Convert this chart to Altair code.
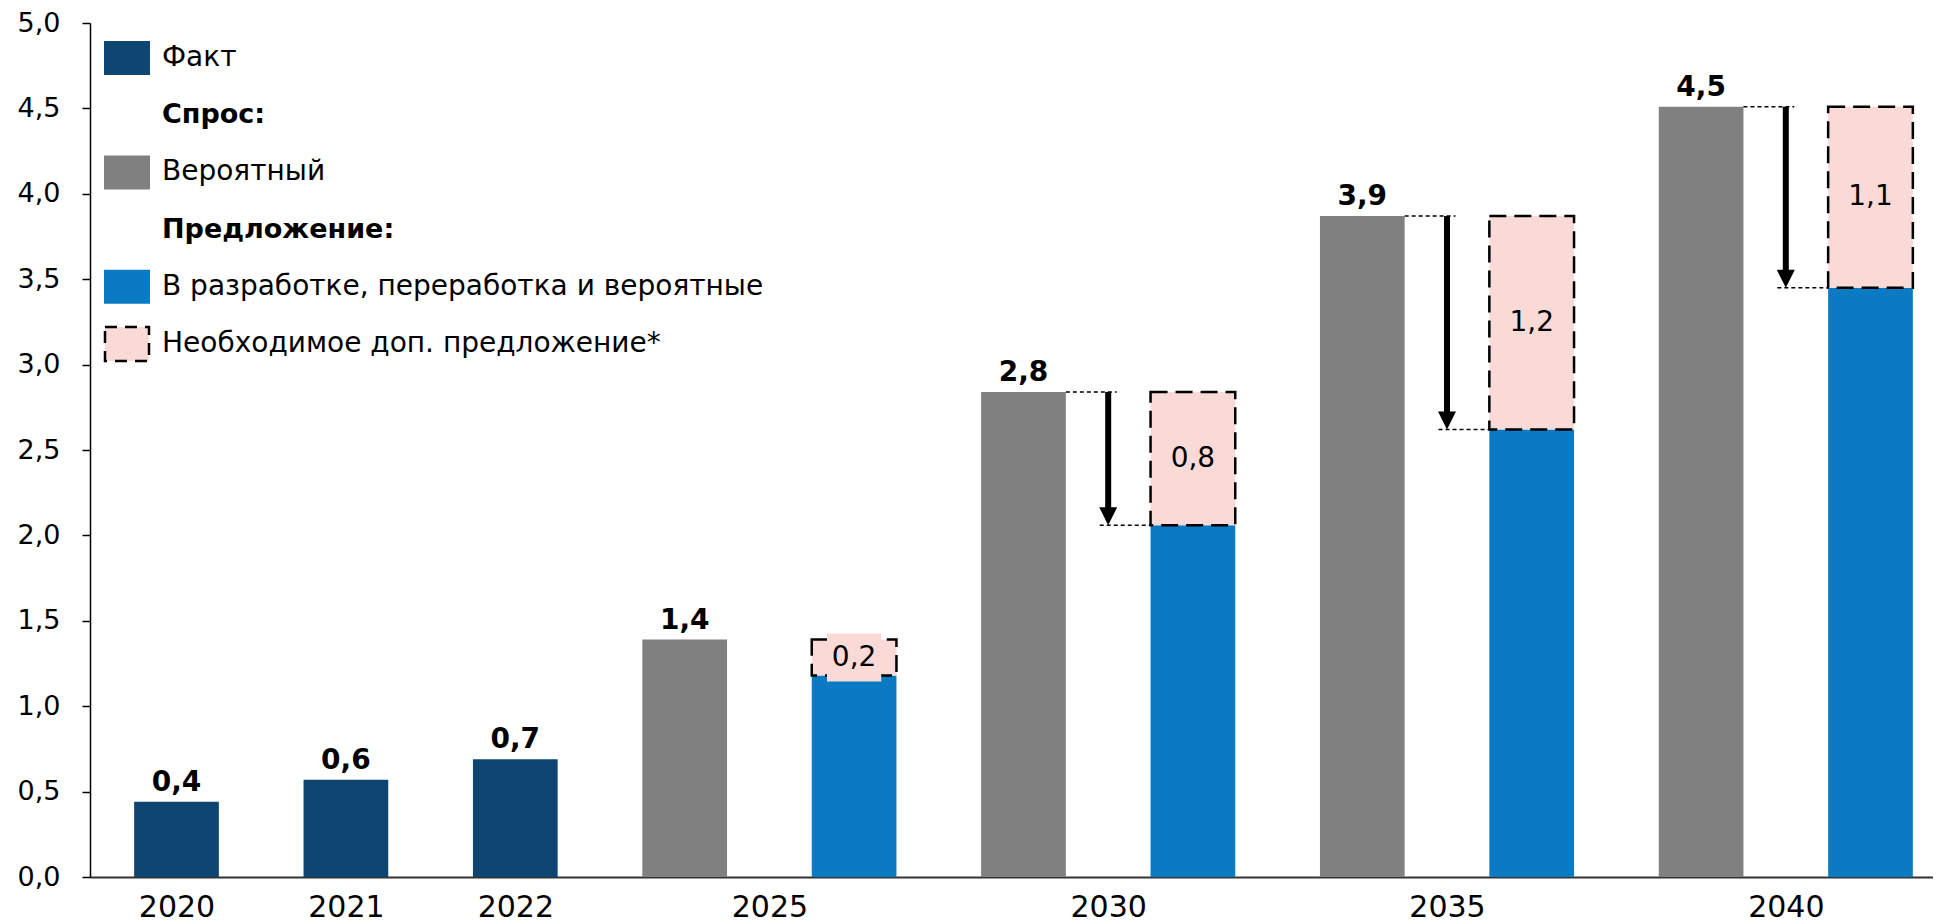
import altair as alt
import pandas as pd

# ---------------- data ----------------
years = ["2020", "2021", "2022", "2025", "2030", "2035", "2040"]
year_slots = [0, 1, 2, 3.5, 5.5, 7.5, 9.5]

fact_years = ["2020", "2021", "2022"]
fact_values = [0.44, 0.57, 0.69]
fact_labels = ["0,4", "0,6", "0,7"]
fact_slots = [0, 1, 2]

fc_years = ["2025", "2030", "2035", "2040"]
demand_values = [1.39, 2.84, 3.87, 4.51]
demand_labels = ["1,4", "2,8", "3,9", "4,5"]
demand_slots = [3, 5, 7, 9]
supply_values = [1.18, 2.06, 2.62, 3.45]
supply_slots = [4, 6, 8, 10]
gap_labels = ["0,2", "0,8", "1,2", "1,1"]
arrow_years = ["2030", "2035", "2040"]

legend_labels = ["Факт", "Спрос:", "Вероятный", "Предложение:",
                 "В разработке, переработка и вероятные", "Необходимое доп. предложение*"]
legend_kind = ["solid", "header", "solid", "header", "solid", "dashed"]
legend_colors = ["#0F4571", "#FFFFFF", "#808080", "#FFFFFF", "#0A7BC3", "#F9DAD7"]

NAVY = "#0F4571"
GRAY = "#808080"
BLUE = "#0A7BC3"
PINK = "#F9DAD7"
FONT = "DejaVu Sans"

# ---------------- layout ----------------
W = 1843
H = 854
SLOT = 169.4
YPX = H / 5.0
xmin = -0.5 - 1.8 / SLOT
xmax = xmin + W / SLOT
xscale = alt.Scale(domain=[xmin, xmax], nice=False, zero=False)
yscale = alt.Scale(domain=[0, 5], nice=False, zero=False)

fact_df = pd.DataFrame({"year": fact_years, "v": fact_values, "lab": fact_labels, "slot": fact_slots})
fc_df = pd.DataFrame({"year": fc_years, "d": demand_values, "dlab": demand_labels, "ds": demand_slots,
                      "s": supply_values, "ss": supply_slots, "glab": gap_labels})
arr_df = fc_df[fc_df["year"].isin(arrow_years)]

label_expr = " : ".join(f"datum.value == {s} ? '{y}'" for s, y in zip(year_slots, years)) + " : ''"

XA = alt.Axis(values=year_slots, labelExpr=label_expr, ticks=False, grid=False,
              domainColor="#333333", domainWidth=2, labelFontSize=30, labelColor="black",
              labelPadding=15, title=None, labelFont=FONT, labelOverlap=False)
YA = alt.Axis(values=[i * 0.5 for i in range(11)],
              labelExpr="replace(format(datum.value, '.1f'), '.', ',')",
              tickSize=8, tickColor="black", tickWidth=1.5, domainColor="black",
              domainWidth=1.5, grid=False, labelFontSize=27, labelColor="black",
              labelPadding=22, title=None, labelFont=FONT, labelOverlap=False)


def X(field):
    return alt.X(field, scale=xscale, axis=XA, title=None)


def Y(field):
    return alt.Y(field, scale=yscale, axis=YA, title=None)


def xr(field, off):
    return f"datum.{field} + ({off})"


fact_bars = alt.Chart(fact_df).transform_calculate(
    x0=xr("slot", -0.25), x1=xr("slot", 0.25), y0="0"
).mark_rect(color=NAVY).encode(x=X("x0:Q"), x2="x1:Q", y=Y("v:Q"), y2="y0:Q")

gray_bars = alt.Chart(fc_df).transform_calculate(
    x0=xr("ds", -0.25), x1=xr("ds", 0.25), y0="0"
).mark_rect(color=GRAY).encode(x=X("x0:Q"), x2="x1:Q", y=Y("d:Q"), y2="y0:Q")

blue_bars = alt.Chart(fc_df).transform_calculate(
    x0=xr("ss", -0.25), x1=xr("ss", 0.25), y0="0"
).mark_rect(color=BLUE).encode(x=X("x0:Q"), x2="x1:Q", y=Y("s:Q"), y2="y0:Q")

pink_bars = alt.Chart(fc_df).transform_calculate(
    x0=xr("ss", -0.25), x1=xr("ss", 0.25)
).mark_rect(fill=PINK, stroke="black", strokeWidth=2.5, strokeDash=[17, 8]).encode(
    x=X("x0:Q"), x2="x1:Q", y=Y("s:Q"), y2="d:Q")

# label background for the small gap (2025)
small_df = fc_df[fc_df["year"] == "2025"]
label_bg = alt.Chart(small_df).transform_calculate(
    x0=xr("ss", -0.16), x1=xr("ss", 0.16),
    y0="(datum.s + datum.d) / 2 - 0.14", y1="(datum.s + datum.d) / 2 + 0.14"
).mark_rect(fill=PINK).encode(x=X("x0:Q"), x2="x1:Q", y=Y("y0:Q"), y2="y1:Q")

fact_text = alt.Chart(fact_df).mark_text(
    font=FONT, fontSize=28, fontWeight="bold", baseline="alphabetic", dy=-11, color="black"
).encode(x=X("slot:Q"), y=Y("v:Q"), text="lab:N")

demand_text = alt.Chart(fc_df).mark_text(
    font=FONT, fontSize=28, fontWeight="bold", baseline="alphabetic", dy=-11, color="black"
).encode(x=X("ds:Q"), y=Y("d:Q"), text="dlab:N")

gap_text = alt.Chart(fc_df).transform_calculate(
    m="(datum.s + datum.d) / 2"
).mark_text(font=FONT, fontSize=28, baseline="middle", color="black").encode(
    x=X("ss:Q"), y=Y("m:Q"), text="glab:N")

shaft = alt.Chart(arr_df).transform_calculate(
    ax="datum.ds + 0.5", ye="datum.s + 0.05"
).mark_rule(color="black", strokeWidth=6).encode(x=X("ax:Q"), y=Y("d:Q"), y2="ye:Q")

head = alt.Chart(arr_df).transform_calculate(
    ax="datum.ds + 0.5"
).mark_point(shape="M-1,-1L1,-1L0,1Z", filled=True, color="black", opacity=1,
             size=18 * 18, yOffset=-9).encode(x=X("ax:Q"), y=Y("s:Q"))

dot_top = alt.Chart(arr_df).transform_calculate(
    x0=xr("ds", 0.25), x1=xr("ds", 0.55)
).mark_rule(color="black", strokeWidth=1.5, strokeDash=[4, 3]).encode(
    x=X("x0:Q"), x2="x1:Q", y=Y("d:Q"))

dot_bot = alt.Chart(arr_df).transform_calculate(
    x0=xr("ds", 0.45), x1=xr("ss", -0.25)
).mark_rule(color="black", strokeWidth=1.5, strokeDash=[4, 3]).encode(
    x=X("x0:Q"), x2="x1:Q", y=Y("s:Q"))

# ---------------- legend (placed in the empty top-left area) ----------------
leg_df = pd.DataFrame({"label": legend_labels, "kind": legend_kind, "color": legend_colors,
                       "row": list(range(len(legend_labels)))})
leg_base = alt.Chart(leg_df).transform_calculate(
    cy=f"5 - (35 + datum.row * 57.2) / {YPX}",
    ty0=f"5 - (35 + datum.row * 57.2 - 17) / {YPX}",
    ty1=f"5 - (35 + datum.row * 57.2 + 17) / {YPX}",
    sx0=f"{xmin} + 14 / {SLOT}", sx1=f"{xmin} + 60 / {SLOT}",
    dx0=f"{xmin} + 15 / {SLOT}", dx1=f"{xmin} + 59 / {SLOT}",
    tx=f"{xmin} + 72 / {SLOT}",
)
leg_solid = leg_base.transform_filter("datum.kind == 'solid'").mark_rect().encode(
    x=X("sx0:Q"), x2="sx1:Q", y=Y("ty0:Q"), y2="ty1:Q",
    color=alt.Color("color:N", scale=None, legend=None))
leg_dash = leg_base.transform_filter("datum.kind == 'dashed'").mark_rect(
    fill=PINK, stroke="black", strokeWidth=2.5, strokeDash=[12, 8]).encode(
    x=X("dx0:Q"), x2="dx1:Q", y=Y("ty0:Q"), y2="ty1:Q")
leg_text = leg_base.transform_filter("datum.kind != 'header'").mark_text(
    font=FONT, fontSize=28, align="left", baseline="middle", color="black").encode(
    x=X("tx:Q"), y=Y("cy:Q"), text="label:N")
leg_head = leg_base.transform_filter("datum.kind == 'header'").mark_text(
    font=FONT, fontSize=27, fontWeight="bold", align="left", baseline="middle", color="black").encode(
    x=X("tx:Q"), y=Y("cy:Q"), text="label:N")

chart = alt.layer(
    fact_bars, gray_bars, blue_bars, pink_bars, label_bg,
    fact_text, demand_text, gap_text, dot_top, dot_bot, shaft, head,
    leg_solid, leg_dash, leg_text, leg_head
).properties(
    width=W, height=H, autosize=alt.AutoSizeParams(type="none"),
    padding={"left": 82, "top": 15, "right": 0, "bottom": 50}
).configure(font=FONT, background="white").configure_view(strokeWidth=0)

chart.save("out.html", embed_options={"renderer": "svg", "actions": False})
